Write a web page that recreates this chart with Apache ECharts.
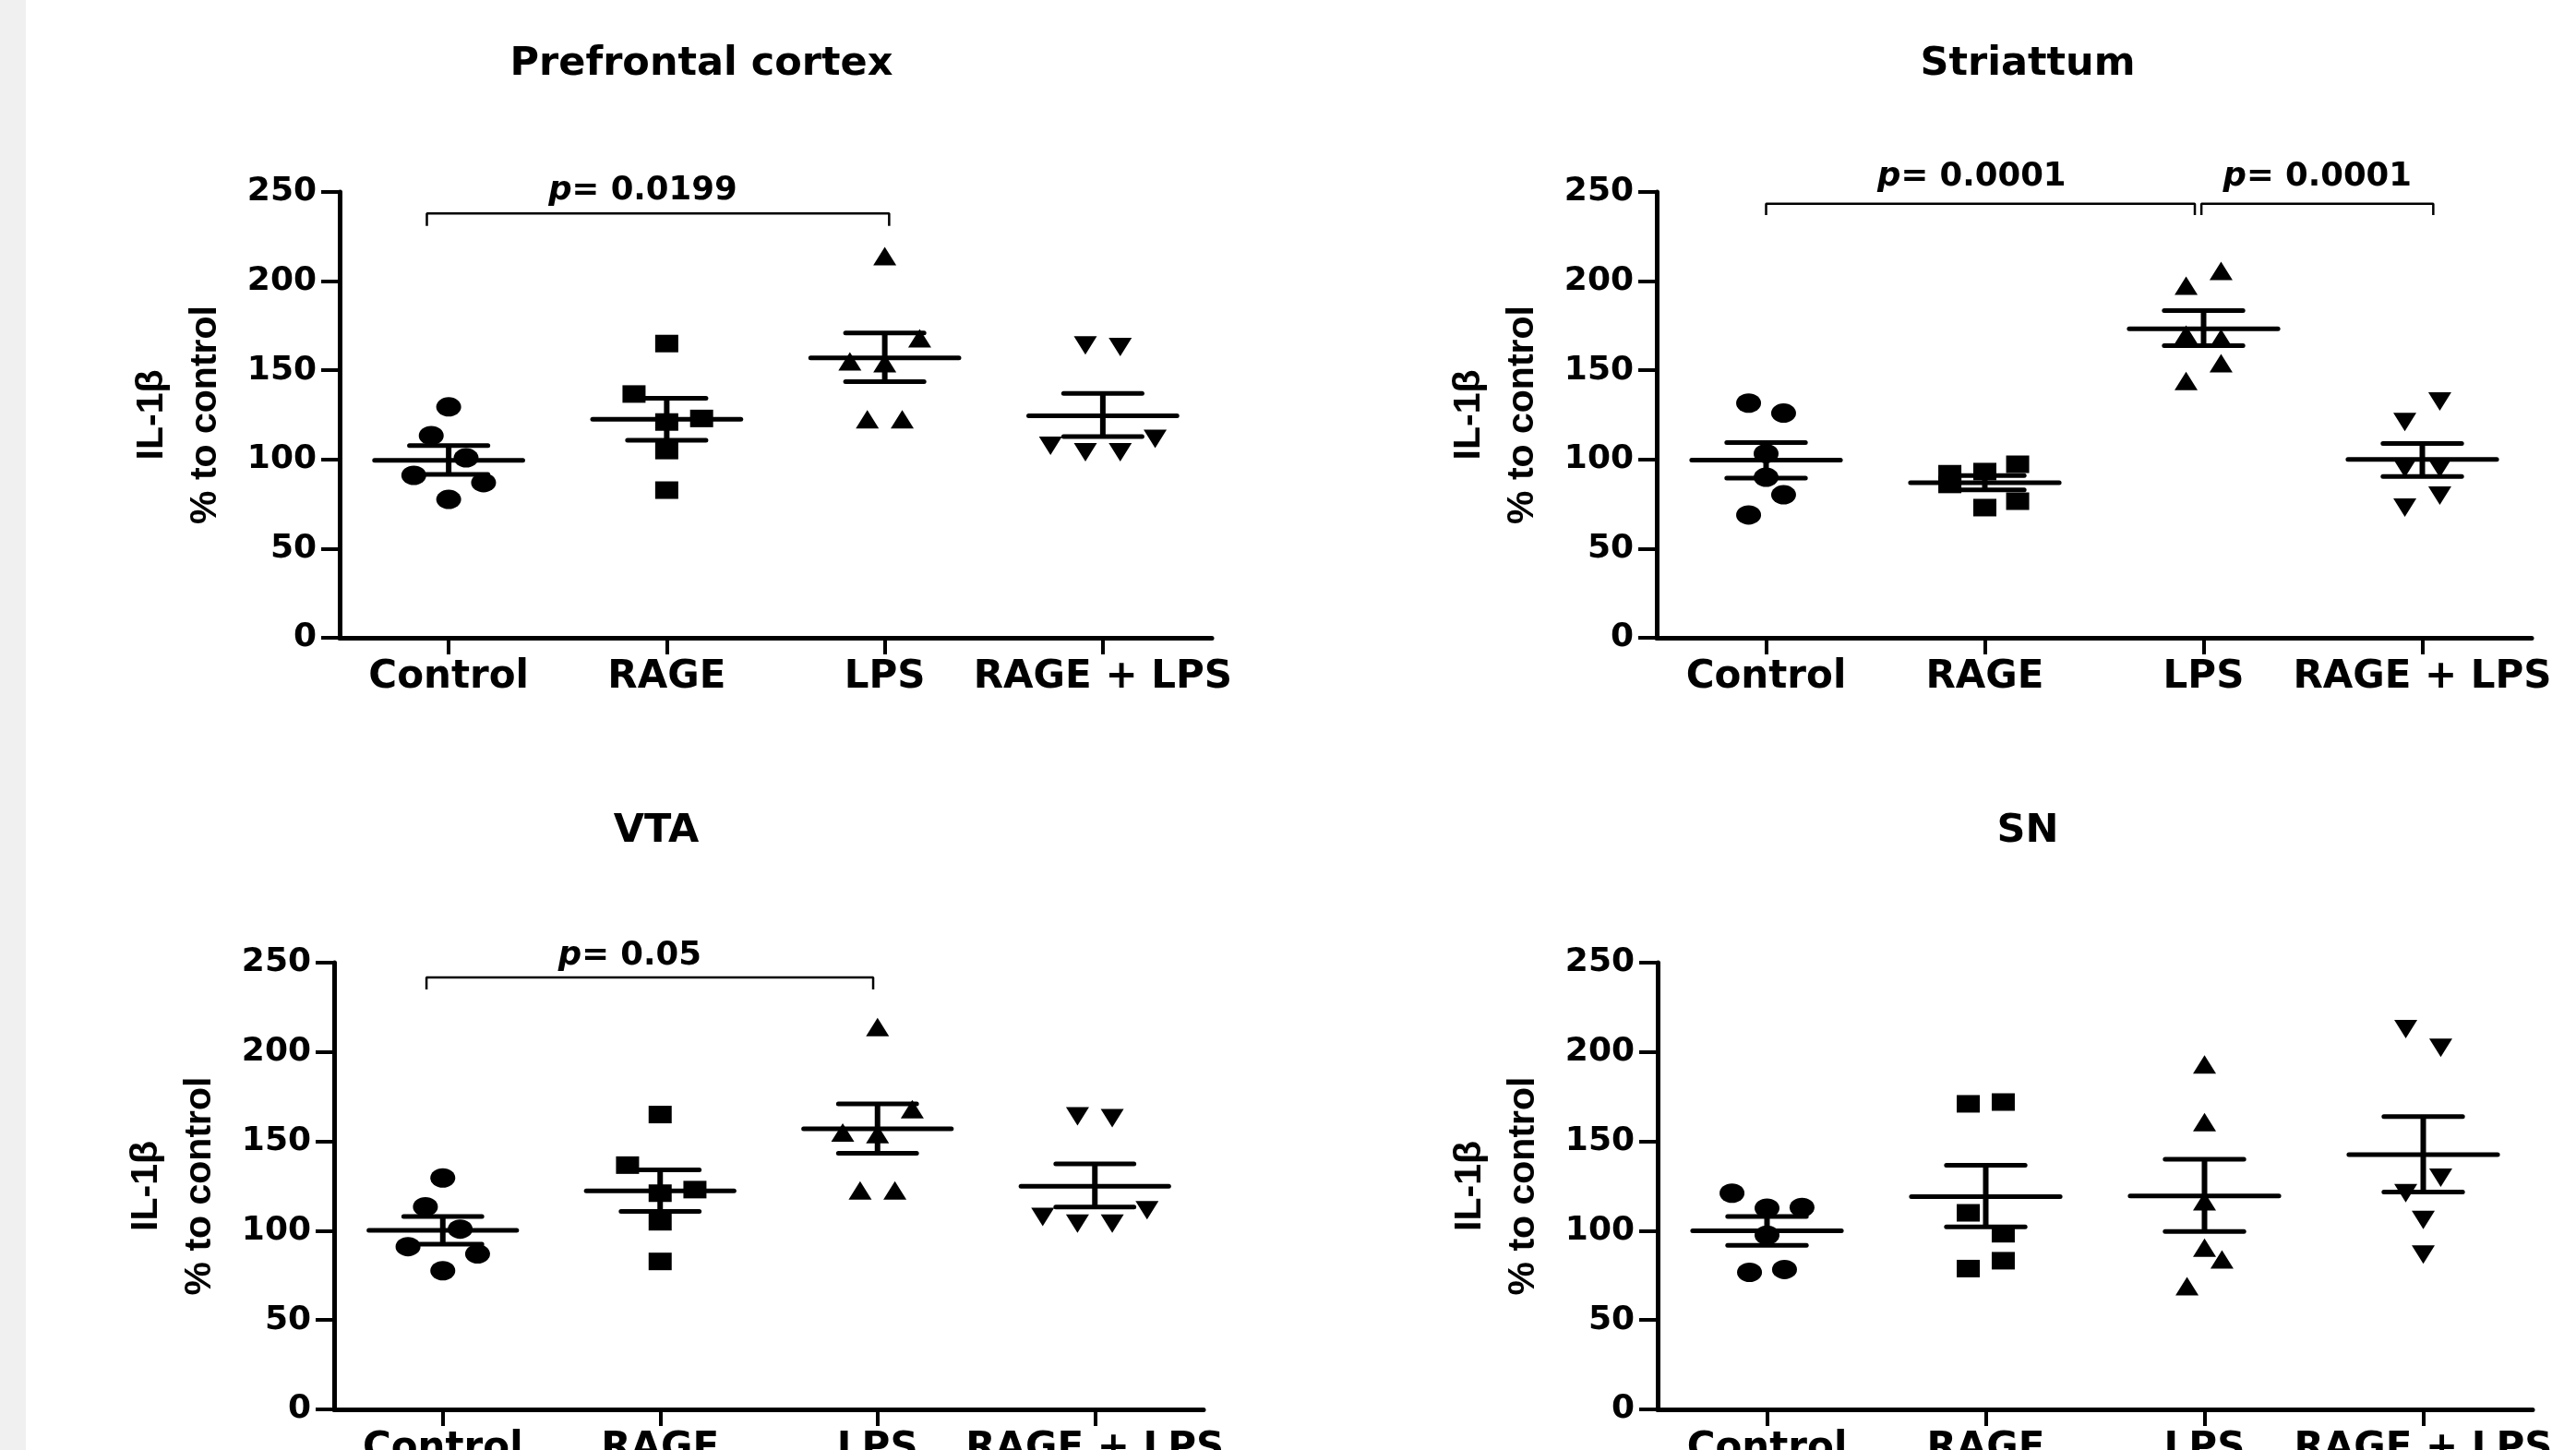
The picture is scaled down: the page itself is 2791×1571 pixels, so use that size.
<!DOCTYPE html>
<html><head><meta charset="utf-8">
<script src="https://cdn.jsdelivr.net/npm/echarts@6.0.0/dist/echarts.min.js"></script>
<style>html,body{margin:0;padding:0;background:#fff}#c{width:2791px;height:1571px}</style>
</head><body><div id="c"></div>
<script>
// ---------- data ----------
const categories = ['Control', 'RAGE', 'LPS', 'RAGE + LPS'];
const panelTitles = ['Prefrontal cortex', 'Striattum', 'VTA', 'SN'];
const yAxisName = 'IL-1β\n% to control';
const yMin = 0, yMax = 250, yStep = 50;

// Prefrontal cortex
const pfcControl = [129.5, 113.4, 100.9, 91.1, 87.0, 77.6];
const pfcControlX = [0, -0.08, 0.08, -0.16, 0.16, 0];
const pfcRage = [165.0, 136.7, 123.0, 121.0, 105.0, 82.8];
const pfcRageX = [0, -0.15, 0.16, 0, 0, 0];
const pfcLps = [214.0, 168.0, 155.0, 154.0, 122.6, 122.6];
const pfcLpsX = [0, 0.16, -0.16, 0, -0.08, 0.08];
const pfcRageLps = [164.0, 163.0, 107.7, 111.5, 104.0, 104.0];
const pfcRageLpsX = [-0.08, 0.08, -0.24, 0.24, -0.08, 0.08];
const pfcMean = [99.5, 122.5, 157.0, 124.5];
const pfcSemLo = [91.6, 110.8, 143.6, 112.8];
const pfcSemHi = [107.8, 134.3, 171.0, 137.0];
const pfcBrackets = [[-0.1, 2.02, 231, 238]];
const pfcPValues = ['0.0199'];
const pfcPAt = [[0.89, 250.8]];

// Striattum
const strControl = [131.6, 126.0, 103.3, 90.0, 80.2, 68.9];
const strControlX = [-0.08, 0.08, 0, 0, 0.08, -0.08];
const strRage = [97.3, 93.2, 92.0, 86.0, 76.6, 73.0];
const strRageX = [0.15, 0, -0.16, -0.16, 0.15, 0];
const strLps = [205.7, 197.4, 170.0, 168.0, 154.0, 144.0];
const strLpsX = [0.08, -0.08, -0.08, 0.08, 0.08, -0.08];
const strRageLps = [132.5, 121.0, 95.0, 95.0, 79.7, 73.0];
const strRageLpsX = [0.08, -0.08, -0.08, 0.08, 0.08, -0.08];
const strMean = [99.7, 86.9, 173.3, 100.0];
const strSemLo = [89.5, 83.0, 163.8, 90.5];
const strSemHi = [109.5, 91.0, 183.5, 109.0];
const strBrackets = [[0, 1.96, 237, 243.4], [1.99, 3.05, 237, 243.4]];
const strPValues = ['0.0001', '0.0001'];
const strPAt = [[0.94, 258.4], [2.52, 258.4]];

// VTA
const vtaControl = [129.5, 113.4, 100.9, 91.1, 87.0, 77.6];
const vtaControlX = [0, -0.08, 0.08, -0.16, 0.16, 0];
const vtaRage = [165.0, 136.7, 123.0, 121.0, 105.0, 82.8];
const vtaRageX = [0, -0.15, 0.16, 0, 0, 0];
const vtaLps = [214.0, 168.0, 155.0, 154.0, 122.6, 122.6];
const vtaLpsX = [0, 0.16, -0.16, 0, -0.08, 0.08];
const vtaRageLps = [164.0, 163.0, 107.7, 111.5, 104.0, 104.0];
const vtaRageLpsX = [-0.08, 0.08, -0.24, 0.24, -0.08, 0.08];
const vtaMean = [100.2, 122.3, 157.0, 124.9];
const vtaSemLo = [92.4, 110.8, 143.3, 113.2];
const vtaSemHi = [108.0, 134.0, 171.0, 137.4];
const vtaBrackets = [[-0.075, 1.98, 235, 241.7]];
const vtaPValues = ['0.05'];
const vtaPAt = [[0.86, 253.9]];

// SN
const snControl = [121.0, 112.6, 113.0, 97.5, 76.7, 78.3];
const snControlX = [-0.16, 0, 0.16, 0, -0.08, 0.08];
const snRage = [171.0, 172.0, 110.0, 98.3, 78.8, 83.2];
const snRageX = [-0.08, 0.08, -0.08, 0.08, -0.08, 0.08];
const snLps = [193.0, 160.8, 116.5, 90.5, 84.0, 69.0];
const snLpsX = [0, 0, 0, 0, 0.08, -0.08];
const snRageLps = [212.8, 202.4, 129.6, 121.0, 106.0, 86.6];
const snRageLpsX = [-0.08, 0.08, 0.08, -0.08, 0, 0];
const snMean = [99.9, 119.0, 119.4, 142.6];
const snSemLo = [91.8, 102.2, 99.6, 121.7];
const snSemHi = [108.0, 136.6, 140.0, 163.9];
const snBrackets = [];
const snPValues = [];
const snPAt = [];

// ---------- layout / style ----------
const grids = [
  {left: 368, top: 208, width: 945, height: 483},
  {left: 1795, top: 208, width: 948, height: 483},
  {left: 362, top: 1043, width: 942, height: 484},
  {left: 1796, top: 1043, width: 948, height: 484}
];
const titlePos = [[760, 48], [2197, 48], [711, 879], [2197, 879]];
const panels = [
  {vals: [pfcControl, pfcRage, pfcLps, pfcRageLps], xs: [pfcControlX, pfcRageX, pfcLpsX, pfcRageLpsX], mean: pfcMean, lo: pfcSemLo, hi: pfcSemHi, br: pfcBrackets, pv: pfcPValues, pa: pfcPAt},
  {vals: [strControl, strRage, strLps, strRageLps], xs: [strControlX, strRageX, strLpsX, strRageLpsX], mean: strMean, lo: strSemLo, hi: strSemHi, br: strBrackets, pv: strPValues, pa: strPAt},
  {vals: [vtaControl, vtaRage, vtaLps, vtaRageLps], xs: [vtaControlX, vtaRageX, vtaLpsX, vtaRageLpsX], mean: vtaMean, lo: vtaSemLo, hi: vtaSemHi, br: vtaBrackets, pv: vtaPValues, pa: vtaPAt},
  {vals: [snControl, snRage, snLps, snRageLps], xs: [snControlX, snRageX, snLpsX, snRageLpsX], mean: snMean, lo: snSemLo, hi: snSemHi, br: snBrackets, pv: snPValues, pa: snPAt}
];
const symbols = [
  {symbol: 'circle', size: [27, 21], rotate: 0},
  {symbol: 'rect', size: [25, 19], rotate: 0},
  {symbol: 'triangle', size: [25, 20], rotate: 0},
  {symbol: 'triangle', size: [25, 20], rotate: 180}
];
const BLACK = '#000';
const hFont = 'DejaVu Sans';

const option = {
  animation: false,
  backgroundColor: '#fff',
  graphic: [{type: 'rect', shape: {x: 0, y: 0, width: 28, height: 1571}, style: {fill: '#f0f0f0'}, silent: true}],
  title: panelTitles.map((t, i) => ({
    text: t, left: titlePos[i][0], top: titlePos[i][1], textAlign: 'center', padding: 0,
    textStyle: {fontFamily: hFont, fontWeight: 'bold', fontSize: 43, color: BLACK}
  })),
  grid: grids.map(g => Object.assign({outerBoundsMode: 'none', containLabel: false}, g)),
  xAxis: [],
  yAxis: [],
  series: []
};

grids.forEach((g, i) => {
  option.xAxis.push({
    type: 'category', gridIndex: i, data: categories, boundaryGap: true,
    axisLine: {show: true, onZero: false, lineStyle: {color: BLACK, width: 5}},
    axisTick: {show: true, alignWithLabel: true, length: 18, lineStyle: {color: BLACK, width: 4}},
    axisLabel: {show: true, margin: 22, interval: 0, fontFamily: hFont, fontWeight: 'bold', fontSize: 42, color: BLACK},
    splitLine: {show: false}
  });
});
grids.forEach((g, i) => {
  option.xAxis.push({type: 'value', gridIndex: i, min: -0.5, max: 3.5, show: false});
});
grids.forEach((g, i) => {
  option.yAxis.push({
    type: 'value', gridIndex: i, min: yMin, max: yMax, interval: yStep,
    axisLine: {show: true, onZero: false, lineStyle: {color: BLACK, width: 5}},
    axisTick: {show: true, length: 20, lineStyle: {color: BLACK, width: 4}},
    axisLabel: {show: true, margin: 25, fontFamily: hFont, fontWeight: 'bold', fontSize: 36, color: BLACK},
    splitLine: {show: false},
    nameLocation: 'middle', nameRotate: 90, nameGap: 116,
    name: yAxisName,
    nameTextStyle: {fontFamily: 'Liberation Sans', fontWeight: 'bolder', fontSize: 41, lineHeight: 58, color: BLACK}
  });
});

panels.forEach((p, i) => {
  const xi = 4 + i;
  p.vals.forEach((vals, gIdx) => {
    const s = symbols[gIdx];
    option.series.push({
      type: 'scatter', xAxisIndex: xi, yAxisIndex: i, name: categories[gIdx],
      symbol: s.symbol, symbolSize: s.size, symbolRotate: s.rotate,
      itemStyle: {color: BLACK, opacity: 1}, clip: false, z: 3,
      data: vals.map((v, k) => [gIdx + p.xs[gIdx][k], v])
    });
  });
  option.series.push({
    type: 'custom', xAxisIndex: xi, yAxisIndex: i, z: 4, clip: false,
    data: p.mean.map((m, gIdx) => [gIdx, m, p.lo[gIdx], p.hi[gIdx]]),
    renderItem: function (params, api) {
      const x = api.value(0), m = api.value(1), lo = api.value(2), hi = api.value(3);
      const a = api.coord([x - 0.34, m]), b = api.coord([x + 0.34, m]);
      const c1 = api.coord([x - 0.18, lo]), c2 = api.coord([x + 0.18, lo]);
      const d1 = api.coord([x - 0.18, hi]), d2 = api.coord([x + 0.18, hi]);
      const st = {stroke: BLACK, lineWidth: 5, lineCap: 'round'};
      return {type: 'group', children: [
        {type: 'line', shape: {x1: a[0], y1: a[1], x2: b[0], y2: b[1]}, style: st},
        {type: 'line', shape: {x1: c1[0], y1: c1[1], x2: c2[0], y2: c2[1]}, style: st},
        {type: 'line', shape: {x1: d1[0], y1: d1[1], x2: d2[0], y2: d2[1]}, style: st},
        {type: 'line', shape: {x1: (c1[0] + c2[0]) / 2, y1: c1[1], x2: (d1[0] + d2[0]) / 2, y2: d1[1]}, style: {stroke: BLACK, lineWidth: 6}}
      ]};
    }
  });
  p.br.forEach(br => {
    option.series.push({
      type: 'line', xAxisIndex: xi, yAxisIndex: i, symbol: 'none', clip: false,
      lineStyle: {color: BLACK, width: 2.5}, z: 2,
      data: [[br[0], br[2]], [br[0], br[3]], [br[1], br[3]], [br[1], br[2]]]
    });
  });
  if (p.pv.length) {
    option.series.push({
      type: 'scatter', xAxisIndex: xi, yAxisIndex: i, symbolSize: 1, clip: false,
      itemStyle: {color: 'rgba(0,0,0,0)'},
      data: p.pv.map((t, k) => ({value: [p.pa[k][0], p.pa[k][1]], ptext: t})),
      label: {
        show: true, position: 'inside', color: BLACK, opacity: 1,
        formatter: params => '{i|p}{n|= ' + params.data.ptext + '}',
        rich: {
          i: {fontFamily: hFont, fontWeight: 'bold', fontStyle: 'italic', fontSize: 35.5, color: BLACK},
          n: {fontFamily: hFont, fontWeight: 'bold', fontSize: 35.5, color: BLACK}
        }
      }
    });
  }
});

const chart = echarts.init(document.getElementById('c'), null, {renderer: 'canvas'});
chart.setOption(option);
</script></body></html>
